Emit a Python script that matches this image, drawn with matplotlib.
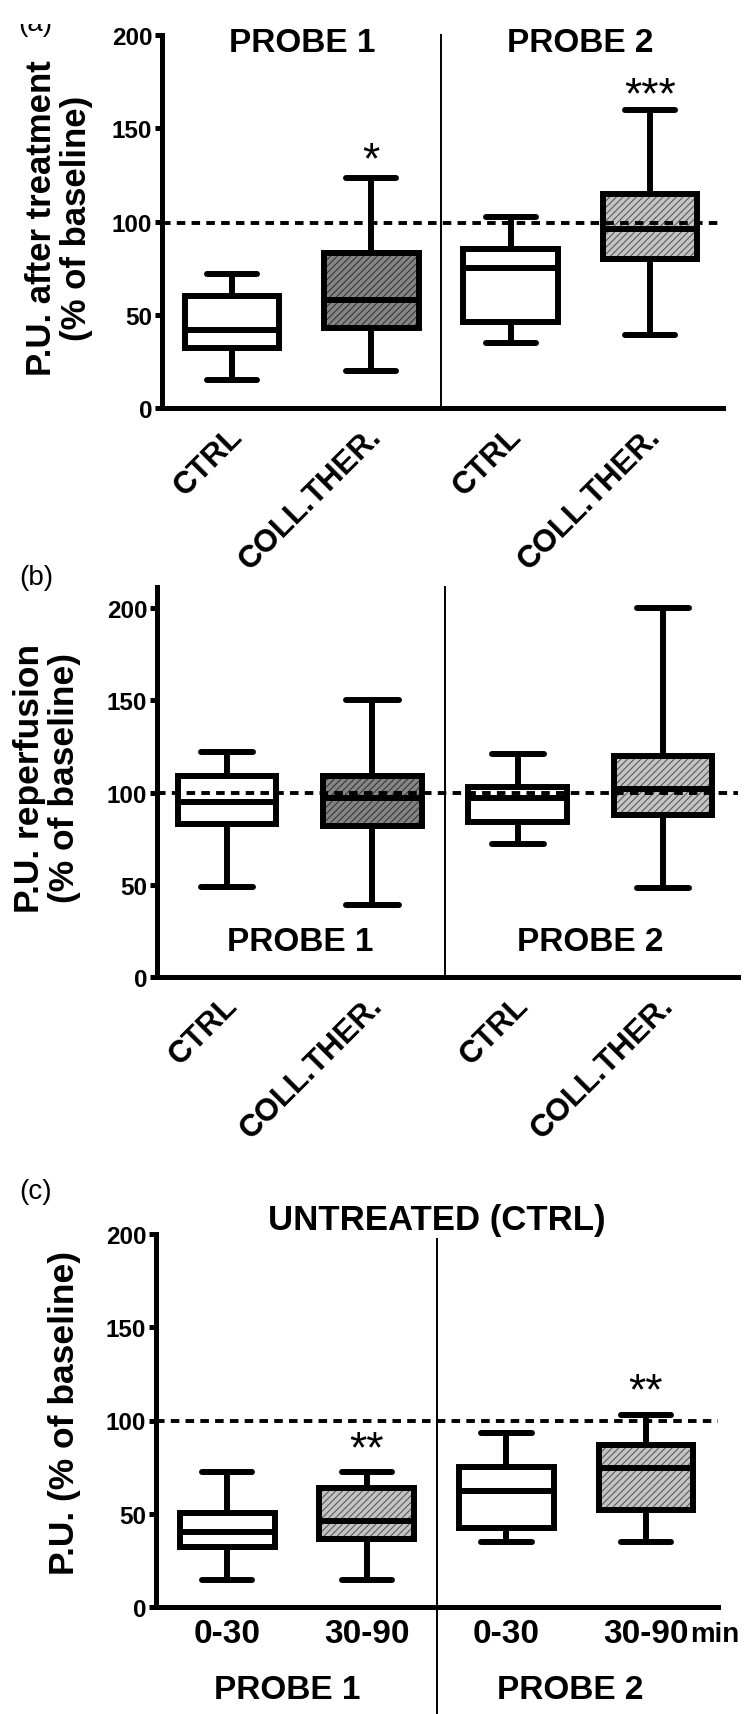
import matplotlib
matplotlib.use("Agg")
import matplotlib.pyplot as plt
from matplotlib.patches import PathPatch
from matplotlib.transforms import Bbox, ScaledTranslation

plt.rcParams['font.family'] = ['Liberation Sans', 'DejaVu Sans']
plt.rcParams['hatch.linewidth'] = 0.8

W, H = 752, 1715

# ---------------- data ----------------
cats_ab = ["CTRL", "COLL.THER.", "CTRL", "COLL.THER."]
cats_c = ["0-30", "30-90", "0-30", "30-90"]
yticks = [0, 50, 100, 150, 200]

# panel (a): P.U. after treatment
a_lo = [15, 20, 35, 39]
a_q1 = [32, 43, 46, 80]
a_med = [42, 58, 75, 96]
a_q3 = [60, 83, 85, 115]
a_hi = [72, 123.5, 102.5, 160]
a_fill = ["white", "dark", "white", "light"]
a_baseline = 99
a_stars = [("*", 2, 126.5), ("***", 4, 161)]

# panel (b): P.U. reperfusion
b_lo = [49, 39, 72, 48]
b_q1 = [83, 82, 84, 88]
b_med = [95, 97, 97, 102]
b_q3 = [109, 109, 103, 120]
b_hi = [122, 150, 121, 200]
b_fill = ["white", "dark", "white", "light"]
b_baseline = 100

# panel (c): untreated
c_lo = [14.5, 14.5, 35, 35]
c_q1 = [32, 36.7, 42.5, 52]
c_med = [40, 46, 62, 74.5]
c_q3 = [50.6, 64, 75, 87]
c_hi = [72.5, 72.5, 93.5, 103]
c_fill = ["white", "light", "white", "light"]
c_baseline = 100
c_stars = [("**", 2, 78), ("**", 4, 109)]

probes = ["PROBE 1", "PROBE 2"]

FILLS = {"dark": ("#858585", "#383838"), "light": ("#c4c4c4", "#5a5a5a")}
LW = 4.3

fig = plt.figure(figsize=(W / 100, H / 100), dpi=100)


def add_axes(left, right, top, bottom):
    return fig.add_axes([left / W, 1 - bottom / H, (right - left) / W, (bottom - top) / H])


def draw_panel(ax, lo, q1, med, q3, hi, fills, baseline, ytop, xlim):
    stats = [dict(whislo=l, q1=a, med=m, q3=b, whishi=h)
             for l, a, m, b, h in zip(lo, q1, med, q3, hi)]
    pos = [1, 2, 3, 4]
    bp = ax.bxp(stats, positions=pos, widths=0.68, capwidths=0.36,
                patch_artist=True, showfliers=False,
                boxprops=dict(linewidth=LW, edgecolor="black", facecolor="white"),
                medianprops=dict(color="black", linewidth=LW, solid_capstyle="butt"),
                whiskerprops=dict(color="black", linewidth=LW, solid_capstyle="butt"),
                capprops=dict(color="black", linewidth=LW, solid_capstyle="round"))
    for box, f in zip(bp["boxes"], fills):
        if f != "white":
            fc, hc = FILLS[f]
            box.set_facecolor("none")
            hp = PathPatch(box.get_path(), transform=ax.transData, facecolor=fc,
                           edgecolor=hc, linewidth=0, hatch="/////", zorder=1.9)
            ax.add_patch(hp)
    ax.axhline(baseline, color="black", lw=2.8, linestyle=(0, (2.2, 1.6)), zorder=5)
    ax.set_xlim(*xlim)
    ax.set_ylim(0, ytop)
    for s in ["top", "right"]:
        ax.spines[s].set_visible(False)
    for s in ["left", "bottom"]:
        ax.spines[s].set_linewidth(3.6)
    ax.set_yticks(yticks)
    ax.tick_params(axis="y", direction="out", length=5, width=3.6, labelsize=17.5, pad=2)
    for lbl in ax.get_yticklabels():
        lbl.set_fontweight("bold")
    ax.tick_params(axis="x", length=0)
    ax.set_facecolor("none")


# ---------- panel (a) ----------
ax_a = add_axes(162, 723, 36, 409)
draw_panel(ax_a, a_lo, a_q1, a_med, a_q3, a_hi, a_fill, a_baseline, 200, (0.497, 4.524))
ax_a.axvline(2.5, ymin=0, ymax=1.0, color="black", lw=1.4, clip_on=False)
ax_a.text(1.5, 196, probes[0], ha="center", va="center", fontsize=24, fontweight="bold")
ax_a.text(3.5, 196, probes[1], ha="center", va="center", fontsize=24, fontweight="bold")
for s, x, y in a_stars:
    ax_a.text(x, y, s, ha="center", va="baseline", fontsize=32)

# ---------- panel (b) ----------
ax_b = add_axes(157, 738, 588, 978)
draw_panel(ax_b, b_lo, b_q1, b_med, b_q3, b_hi, b_fill, b_baseline, 211.4, (0.518, 4.516))
ax_b.axvline(2.5, ymin=0, ymax=1.0, color="black", lw=1.4, clip_on=False)
ax_b.text(1.5, 19.5, probes[0], ha="center", va="center", fontsize=24, fontweight="bold")
ax_b.text(3.5, 19.5, probes[1], ha="center", va="center", fontsize=24, fontweight="bold")

for ax in (ax_a, ax_b):
    ax.set_xticks([1, 2, 3, 4], cats_ab, rotation=45, ha="right",
                  rotation_mode="anchor", fontsize=22.5, fontweight="bold")
    ax.tick_params(axis="x", pad=17)
    for lbl in ax.get_xticklabels():
        lbl.set_va("center")
        lbl.set_transform(lbl.get_transform() + ScaledTranslation(0.06, 0, fig.dpi_scale_trans))

# ---------- panel (c) ----------
ax_c = add_axes(156, 718, 1235, 1608)
draw_panel(ax_c, c_lo, c_q1, c_med, c_q3, c_hi, c_fill, c_baseline, 200, (0.49, 4.516))
ax_c.axvline(2.5, ymin=-0.287, ymax=0.987, color="black", lw=1.4, clip_on=False)
ax_c.set_xticks([1, 2, 3, 4], cats_c, fontsize=24, fontweight="bold")
ax_c.tick_params(axis="x", pad=8)
ax_c.text(4.315, -0.092, "min", transform=ax_c.get_xaxis_transform(), ha="left",
          va="baseline", fontsize=20, fontweight="bold")
ax_c.text(1.43, -0.2225, probes[0], transform=ax_c.get_xaxis_transform(), ha="center",
          va="center", fontsize=24, fontweight="bold")
ax_c.text(3.46, -0.2225, probes[1], transform=ax_c.get_xaxis_transform(), ha="center",
          va="center", fontsize=24, fontweight="bold")
ax_c.text(2.5, 1.04, "UNTREATED (CTRL)", transform=ax_c.get_xaxis_transform(),
          ha="center", va="center", fontsize=25, fontweight="bold")
for s, x, y in c_stars:
    ax_c.text(x, y, s, ha="center", va="baseline", fontsize=32)

# ---------- y labels and panel letters ----------
fig.text(59 / W, 1 - 218 / H, "P.U. after treatment\n(% of baseline)", rotation=90,
         ha="center", va="center", fontsize=25, fontweight="bold", linespacing=1.1)
fig.text(47 / W, 1 - 778 / H, "P.U. reperfusion\n(% of baseline)", rotation=90,
         ha="center", va="center", fontsize=25.5, fontweight="bold", linespacing=1.1)
fig.text(65 / W, 1 - 1413 / H, "P.U. (% of baseline)", rotation=90,
         ha="center", va="center", fontsize=25.5, fontweight="bold")

ta = fig.text(35 / W, 1 - 31 / H, "(a)", ha="center", va="baseline", fontsize=20)
ta.set_clip_box(Bbox.from_extents(0, 0, W, H - 25))
ta.set_clip_on(True)
fig.text(36 / W, 1 - 578 / H, "(b)", ha="center", va="center", fontsize=20)
fig.text(36 / W, 1 - 1192 / H, "(c)", ha="center", va="center", fontsize=20)

fig.savefig("out.png", dpi=100, facecolor="white")
